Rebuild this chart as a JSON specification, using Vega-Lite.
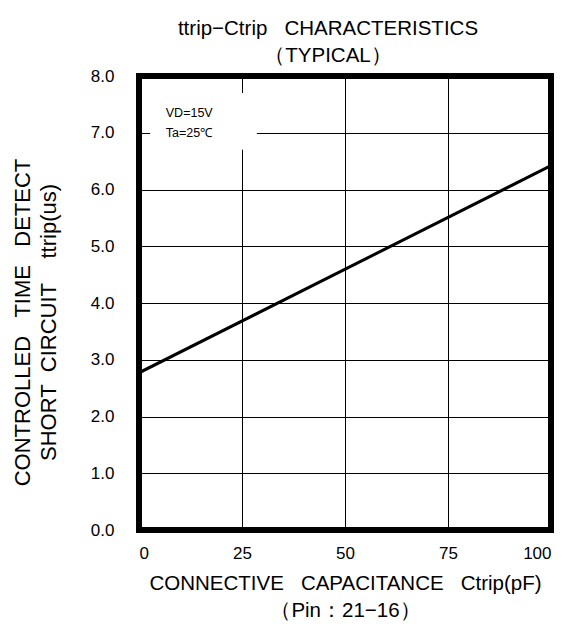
{
  "$schema": "https://vega.github.io/schema/vega-lite/v6.json",
  "width": 412,
  "height": 454,
  "autosize": {"type": "none"},
  "padding": {"left": 139, "top": 76, "right": 20, "bottom": 96},
  "background": "white",
  "config": {
    "view": {"stroke": "black", "strokeWidth": 6},
    "font": "Liberation Sans"
  },
  "title": {
    "text": ["ttrip−Ctrip\u00a0\u00a0\u00a0CHARACTERISTICS", "（TYPICAL）"],
    "font": "Liberation Sans",
    "fontSize": 20.5,
    "fontWeight": "normal",
    "color": "black",
    "anchor": "middle",
    "dx": -17,
    "offset": 1,
    "lineHeight": 27
  },
  "datasets": {
    "curve": [
      {"c": 0, "t": 2.77},
      {"c": 100, "t": 6.42}
    ],
    "box": [
      {"x1": 2.7, "x2": 28.6, "y1": 6.7, "y2": 7.7}
    ],
    "notes": [
      {"x": 6.5, "y": 7.35, "label": "VD=15V"},
      {"x": 6.5, "y": 7.0, "label": "Ta=25℃"}
    ]
  },
  "layer": [
    {
      "data": {"name": "curve"},
      "mark": {"type": "line", "color": "black", "strokeWidth": 3, "clip": true},
      "encoding": {
        "x": {
          "field": "c", "type": "quantitative",
          "scale": {"domain": [0, 100], "nice": false},
          "axis": {
            "values": [0, 25, 50, 75, 100],
            "grid": true, "gridColor": "black", "gridWidth": 1, "gridOpacity": 1,
            "domain": false, "ticks": false,
            "labelFontSize": 17, "labelColor": "black", "labelPadding": 15,
            "labelFont": "Liberation Sans",
            "title": ["CONNECTIVE\u00a0\u00a0\u00a0CAPACITANCE\u00a0\u00a0\u00a0Ctrip(pF)", "（Pin：21−16）"],
            "titleFont": "Liberation Sans", "titleFontSize": 20.5, "titleFontWeight": "normal",
            "titleColor": "black", "titlePadding": 12, "titleLineHeight": 27
          }
        },
        "y": {
          "field": "t", "type": "quantitative",
          "scale": {"domain": [0, 8], "nice": false},
          "axis": {
            "values": [0, 1, 2, 3, 4, 5, 6, 7, 8],
            "format": ".1f",
            "grid": true, "gridColor": "black", "gridWidth": 1, "gridOpacity": 1,
            "domain": false, "ticks": false,
            "labelFontSize": 17, "labelColor": "black", "labelPadding": 25,
            "labelFont": "Liberation Sans",
            "title": ["CONTROLLED\u00a0\u00a0\u00a0TIME\u00a0\u00a0\u00a0DETECT", "SHORT\u00a0\u00a0CIRCUIT\u00a0\u00a0\u00a0\u00a0ttrip(us)"],
            "titleFont": "Liberation Sans", "titleFontSize": 22, "titleFontWeight": "normal",
            "titleColor": "black", "titleLineHeight": 26,
            "titleAngle": -90, "titleAlign": "center", "titleBaseline": "top",
            "titleX": -126.5, "titleY": 246
          }
        }
      }
    },
    {
      "data": {"name": "box"},
      "mark": {"type": "rect", "fill": "white"},
      "encoding": {
        "x": {"field": "x1", "type": "quantitative"},
        "x2": {"field": "x2"},
        "y": {"field": "y1", "type": "quantitative"},
        "y2": {"field": "y2"}
      }
    },
    {
      "data": {"name": "notes"},
      "mark": {"type": "text", "align": "left", "baseline": "middle", "font": "Liberation Sans", "fontSize": 12.5, "color": "black"},
      "encoding": {
        "x": {"field": "x", "type": "quantitative"},
        "y": {"field": "y", "type": "quantitative"},
        "text": {"field": "label"}
      }
    }
  ]
}
